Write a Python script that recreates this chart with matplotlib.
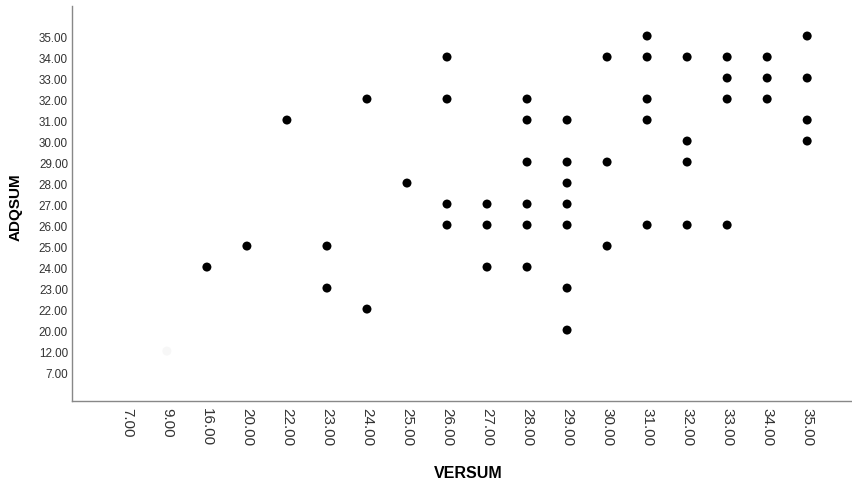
import matplotlib
matplotlib.use("Agg")
import matplotlib.pyplot as plt

x_categories = ["7.00", "9.00", "16.00", "20.00", "22.00", "23.00", "24.00", "25.00", "26.00",
                "27.00", "28.00", "29.00", "30.00", "31.00", "32.00", "33.00", "34.00", "35.00"]
y_categories = ["7.00", "12.00", "20.00", "22.00", "23.00", "24.00", "25.00", "26.00", "27.00",
                "28.00", "29.00", "30.00", "31.00", "32.00", "33.00", "34.00", "35.00"]

versum = ["16.00", "20.00", "22.00", "23.00", "23.00", "24.00", "24.00", "25.00",
          "26.00", "26.00", "26.00", "26.00",
          "27.00", "27.00", "27.00",
          "28.00", "28.00", "28.00", "28.00", "28.00", "28.00",
          "29.00", "29.00", "29.00", "29.00", "29.00", "29.00", "29.00",
          "30.00", "30.00", "30.00",
          "31.00", "31.00", "31.00", "31.00", "31.00",
          "32.00", "32.00", "32.00", "32.00",
          "33.00", "33.00", "33.00", "33.00",
          "34.00", "34.00", "34.00",
          "35.00", "35.00", "35.00", "35.00"]
adqsum = ["24.00", "25.00", "31.00", "25.00", "23.00", "32.00", "22.00", "28.00",
          "34.00", "32.00", "27.00", "26.00",
          "27.00", "26.00", "24.00",
          "32.00", "31.00", "29.00", "27.00", "26.00", "24.00",
          "31.00", "29.00", "28.00", "27.00", "26.00", "23.00", "20.00",
          "34.00", "29.00", "25.00",
          "35.00", "34.00", "32.00", "31.00", "26.00",
          "34.00", "30.00", "29.00", "26.00",
          "34.00", "33.00", "32.00", "26.00",
          "34.00", "33.00", "32.00",
          "35.00", "33.00", "31.00", "30.00"]
faint_x = ["9.00"]
faint_y = ["12.00"]

plt.rcParams['font.family'] = ['Liberation Sans', 'DejaVu Sans']

fig = plt.figure(figsize=(8.52, 4.85), dpi=100)
ax = fig.add_axes([0.085, 0.171, 0.915, 0.8146])

xi = [x_categories.index(v) for v in versum]
yi = [y_categories.index(v) for v in adqsum]
ax.scatter(xi, yi, s=42, color="black", edgecolors="none", zorder=3)
ax.scatter([x_categories.index(v) for v in faint_x], [y_categories.index(v) for v in faint_y],
           s=42, color="#f7f7f7", edgecolors="none", zorder=2)

ax.set_xlim(-1.36, 18.12)
ax.set_ylim(-1.38, 17.43)
ax.set_xticks(range(len(x_categories)))
ax.set_xticklabels(x_categories, rotation=270, ha="center", va="top", fontsize=11, color="#333333")
ax.set_yticks(range(len(y_categories)))
ax.set_yticklabels(y_categories, fontsize=8.4, color="#333333")
ax.tick_params(axis="both", length=0)
ax.tick_params(axis="x", pad=4)
ax.tick_params(axis="y", pad=3.2)

for s in ["top", "right"]:
    ax.spines[s].set_visible(False)
for s in ["left", "bottom"]:
    ax.spines[s].set_color("#888888")
    ax.spines[s].set_linewidth(1.0)

ax.set_xlabel("VERSUM", fontsize=11.5, fontweight="bold")
ax.set_ylabel("ADQSUM", fontsize=11, fontweight="bold")
ax.xaxis.set_label_coords(0.5075, -0.163)
ax.yaxis.set_label_coords(-0.0634, 0.494)

fig.savefig("out.png", dpi=100)
